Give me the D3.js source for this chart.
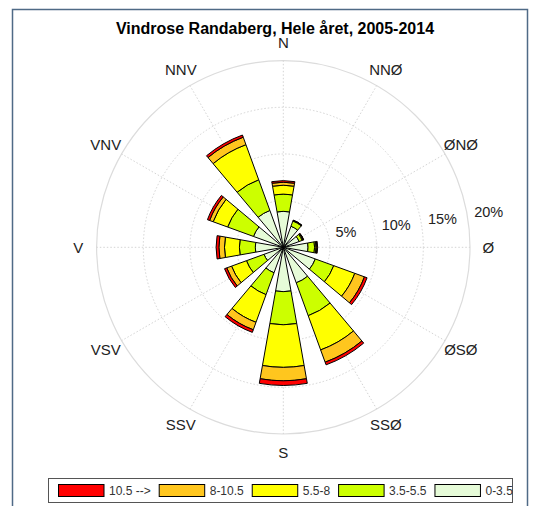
<!DOCTYPE html>
<html>
<head>
<meta charset="utf-8">
<script src="https://cdn.jsdelivr.net/npm/d3@7"></script>
<style>
  html, body { margin: 0; padding: 0; background: #fff; }
  svg { display: block; font-family: "Liberation Sans", Arial, sans-serif; }
</style>
</head>
<body>
<svg id="chart" width="540" height="506"></svg>
<script>
// ---- data ----
const directions = ["N", "NNØ", "ØNØ", "Ø", "ØSØ", "SSØ", "S", "SSV", "VSV", "V", "VNV", "NNV"];
const directionAngles = [0, 30, 60, 90, 120, 150, 180, 210, 240, 270, 300, 330];
const speedClasses = ["0-3.5", "3.5-5.5", "5.5-8", "8-10.5", "10.5 -->"];
const speedColors = ["#e6fbd8", "#ccff00", "#ffff00", "#ffc61e", "#ff0000"];
// frequency (%) per direction for each speed class
const calm0_3_5   = [3.85, 2.40, 1.80, 2.65, 3.65, 4.05, 4.75, 2.90, 2.20, 3.00, 3.40, 4.20];
const wind3_5_5_5 = [1.85, 0.60, 0.35, 0.70, 2.10, 3.75, 3.55, 2.50, 2.00, 1.70, 2.95, 3.50];
const wind5_5_8   = [0.95, 0.05, 0.10, 0.15, 2.40, 3.90, 4.56, 3.15, 1.70, 1.60, 1.65, 4.00];
const wind8_10_5  = [0.32, 0.03, 0.05, 0.10, 1.10, 1.40, 1.44, 0.85, 0.55, 0.60, 0.40, 0.85];
const wind10_5up  = [0.17, 0.02, 0.03, 0.08, 0.30, 0.30, 0.50, 0.30, 0.25, 0.30, 0.25, 0.25];
const rings = [5, 10, 15, 20];
const ringLabels = ["5%", "10%", "15%", "20%"];
const title = "Vindrose Randaberg, Hele året, 2005-2014";

// ---- layout ----
const svg = d3.select("#chart");
const cx = 283.3, cy = 247.3;
const r = d3.scaleLinear().domain([0, 20]).range([0, 186.7]);
const halfWidth = 10 * Math.PI / 180;
const rad = d => d * Math.PI / 180;

// frame
svg.append("rect")
  .attr("x", 12.5).attr("y", 9.5).attr("width", 515).attr("height", 510)
  .attr("fill", "none").attr("stroke", "#4f6a86").attr("stroke-width", 1.5);

const g = svg.append("g").attr("transform", `translate(${cx},${cy})`);

// grid rings
g.selectAll("circle.ring").data(rings).enter().append("circle")
  .attr("r", d => r(d))
  .attr("fill", "none")
  .attr("stroke", d => d === 20 ? "#dcdcdc" : "#d4d4d4")
  .attr("stroke-width", d => d === 20 ? 1.2 : 1)
  .attr("stroke-dasharray", d => d === 20 ? null : "1.5,2");

// radial spokes
g.selectAll("line.spoke").data(directionAngles).enter().append("line")
  .attr("x1", 0).attr("y1", 0)
  .attr("x2", d => r(20) * Math.sin(rad(d)))
  .attr("y2", d => -r(20) * Math.cos(rad(d)))
  .attr("stroke", "#d4d4d4").attr("stroke-width", 1).attr("stroke-dasharray", "1.5,2");

// stacked wedges
const series = [calm0_3_5, wind3_5_5_5, wind5_5_8, wind8_10_5, wind10_5up];
const segs = [];
directions.forEach((dir, i) => {
  let cum = 0;
  series.forEach((s, k) => {
    segs.push({ dir, angle: directionAngles[i], k, r0: cum, r1: cum + s[i] });
    cum += s[i];
  });
});
const arc = d3.arc()
  .innerRadius(d => r(d.r0)).outerRadius(d => r(d.r1))
  .startAngle(d => rad(d.angle) - halfWidth).endAngle(d => rad(d.angle) + halfWidth);
g.selectAll("path.seg").data(segs).enter().append("path")
  .attr("d", arc)
  .attr("fill", d => speedColors[d.k])
  .attr("stroke", "#000").attr("stroke-width", 1).attr("stroke-linejoin", "round");

// direction labels
g.selectAll("text.dir").data(directions).enter().append("text")
  .attr("x", (d, i) => 205 * Math.sin(rad(directionAngles[i])))
  .attr("y", (d, i) => -205 * Math.cos(rad(directionAngles[i])))
  .attr("text-anchor", "middle").attr("dominant-baseline", "central")
  .attr("font-size", 15).attr("fill", "#222")
  .text(d => d);

// ring labels
const la = rad(82);
g.selectAll("text.ring").data(rings).enter().append("text")
  .attr("x", d => r(d) * Math.sin(la) + 6)
  .attr("y", d => -r(d) * Math.cos(la) - 9)
  .attr("text-anchor", "start").attr("dominant-baseline", "central")
  .attr("font-size", 14.5).attr("fill", "#222")
  .text((d, i) => ringLabels[i]);

// title
svg.append("text")
  .attr("x", 275).attr("y", 33.5)
  .attr("text-anchor", "middle")
  .attr("font-size", 16).attr("font-weight", "bold").attr("fill", "#000")
  .text(title);

// legend
const legend = svg.append("g");
legend.append("rect")
  .attr("x", 48.5).attr("y", 478.5).attr("width", 464).attr("height", 24)
  .attr("fill", "#fff").attr("stroke", "#555").attr("stroke-width", 1);
let lx = 58.5;
const legendOrder = [4, 3, 2, 1, 0];
legendOrder.forEach(k => {
  legend.append("rect")
    .attr("x", lx).attr("y", 484.5).attr("width", 45.5).attr("height", 12)
    .attr("fill", speedColors[k]).attr("stroke", "#000").attr("stroke-width", 1);
  const t = legend.append("text")
    .attr("x", lx + 50.5).attr("y", 490.5)
    .attr("dominant-baseline", "central")
    .attr("font-size", 12).attr("fill", "#333")
    .text(speedClasses[k]);
  lx += 50.5 + t.node().getComputedTextLength() + 8.5;
});
</script>
</body>
</html>
